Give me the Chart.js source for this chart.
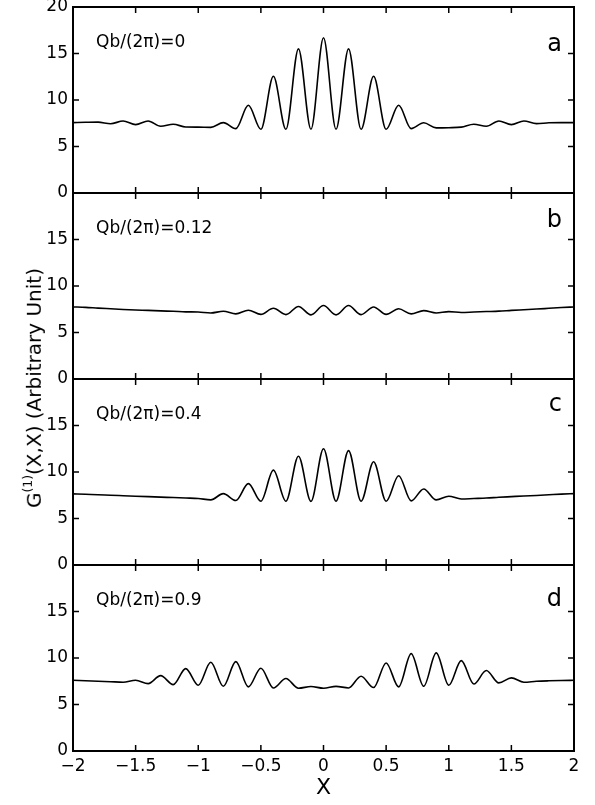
<!DOCTYPE html>
<html>
<head>
<meta charset="utf-8">
<script src="https://cdn.jsdelivr.net/npm/chart.js@4.4.0/dist/chart.umd.min.js"></script>
<style>
  body { margin: 0; background: #fff; }
  #wrap { position: relative; width: 595px; height: 805px; overflow: hidden; }
  #wrap canvas { position: absolute; left: 0; }
  #ylab {
    position: absolute; left: 33px; top: 388px;
    transform: translate(-50%, -50%) rotate(-90deg);
    white-space: nowrap; font: 20px "DejaVu Sans"; color: #000;
  }
  #ylab sup { font-size: 0.62em; vertical-align: 0.75em; }
</style>
</head>
<body>
<div id="wrap">
  <canvas id="pa"></canvas>
  <canvas id="pb"></canvas>
  <canvas id="pc"></canvas>
  <canvas id="pd"></canvas>
  <div id="ylab">G<sup>(1)</sup>(X,X) (Arbitrary Unit)</div>
</div>
<script>
// x positions shared by all four panels
const xValues = [-2.0, -1.9, -1.8, -1.7, -1.6, -1.5, -1.4, -1.3, -1.2, -1.1, -1.0,
  -0.9, -0.8, -0.7, -0.6, -0.5, -0.4, -0.3, -0.2, -0.1, 0.0,
  0.1, 0.2, 0.3, 0.4, 0.5, 0.6, 0.7, 0.8, 0.9, 1.0,
  1.1, 1.2, 1.3, 1.4, 1.5, 1.6, 1.7, 1.8, 1.9, 2.0];

// G(1)(X,X) for Qb/(2pi) = 0
const seriesA = [7.57, 7.6, 7.62, 7.45, 7.74, 7.35, 7.74, 7.17, 7.39, 7.1, 7.08,
  7.06, 7.57, 6.92, 9.43, 6.85, 12.55, 6.85, 15.5, 6.85, 16.7,
  6.85, 15.5, 6.85, 12.55, 6.85, 9.43, 6.92, 7.55, 7.0, 7.02,
  7.08, 7.39, 7.17, 7.74, 7.35, 7.74, 7.46, 7.55, 7.57, 7.57];

// Qb/(2pi) = 0.12
const seriesB = [7.75, 7.7, 7.62, 7.55, 7.48, 7.42, 7.38, 7.32, 7.28, 7.22, 7.2,
  7.1, 7.28, 7.0, 7.4, 6.95, 7.6, 6.92, 7.8, 6.9, 7.9,
  6.9, 7.9, 6.92, 7.75, 6.95, 7.55, 7.0, 7.35, 7.1, 7.25,
  7.15, 7.2, 7.25, 7.3, 7.38, 7.45, 7.52, 7.6, 7.68, 7.75];

// Qb/(2pi) = 0.4
const seriesC = [7.65, 7.6, 7.56, 7.5, 7.45, 7.4, 7.35, 7.3, 7.25, 7.2, 7.15,
  7.0, 7.68, 6.93, 8.75, 6.86, 10.2, 6.86, 11.7, 6.84, 12.5,
  6.86, 12.3, 6.86, 11.1, 6.86, 9.6, 6.9, 8.18, 7.0, 7.4,
  7.1, 7.15, 7.2, 7.28, 7.35, 7.42, 7.48, 7.55, 7.62, 7.68];

// Qb/(2pi) = 0.9
const seriesD = [7.6, 7.55, 7.5, 7.45, 7.4, 7.6, 7.25, 8.1, 7.14, 8.86, 7.07,
  9.54, 6.96, 9.61, 6.9, 8.9, 6.78, 7.79, 6.75, 6.93, 6.75,
  6.95, 6.78, 8.04, 6.82, 9.47, 6.9, 10.47, 6.96, 10.55, 7.07,
  9.72, 7.2, 8.65, 7.32, 7.86, 7.4, 7.5, 7.55, 7.58, 7.6];

const xTicks = [-2, -1.5, -1, -0.5, 0, 0.5, 1, 1.5, 2];
const yTicks = [0, 5, 10, 15, 20];
const panelTexts = ['Qb/(2\u03c0)=0', 'Qb/(2\u03c0)=0.12', 'Qb/(2\u03c0)=0.4', 'Qb/(2\u03c0)=0.9'];
const panelLetters = ['a', 'b', 'c', 'd'];

const allSeries = [seriesA, seriesB, seriesC, seriesD];
const canvasIds = ['pa', 'pb', 'pc', 'pd'];
const panelTops = [7, 193, 379, 565];
const panelH = 186;
const letterOffsets = [44, 34, 32, 41];
const FONT = '"DejaVu Sans"';

// frame, inward ticks and the in-panel labels
const framePlugin = {
  id: 'frame',
  afterDatasetsDraw(chart, args, opts) {
    const { ctx, chartArea: a } = chart;
    const x = chart.scales.x, y = chart.scales.y;
    ctx.save();
    ctx.strokeStyle = '#000';
    ctx.lineWidth = 1.5;
    ctx.beginPath();
    xTicks.forEach(v => {
      const px = x.getPixelForValue(v);
      ctx.moveTo(px, a.bottom); ctx.lineTo(px, a.bottom - 6);
      ctx.moveTo(px, a.top); ctx.lineTo(px, a.top + 6);
    });
    yTicks.forEach(v => {
      const py = y.getPixelForValue(v);
      ctx.moveTo(a.left, py); ctx.lineTo(a.left + 6, py);
      ctx.moveTo(a.right, py); ctx.lineTo(a.right - 6, py);
    });
    ctx.stroke();
    ctx.lineWidth = 2;
    ctx.strokeRect(a.left, a.top, a.right - a.left, a.bottom - a.top);

    ctx.fillStyle = '#000';
    ctx.textBaseline = 'alphabetic';
    ctx.font = '17px ' + FONT;
    ctx.textAlign = 'left';
    ctx.fillText(panelTexts[opts.index], a.left + 23, a.top + 40);
    ctx.font = '24px ' + FONT;
    ctx.textAlign = 'right';
    ctx.fillText(panelLetters[opts.index], a.right - 12, a.top + letterOffsets[opts.index]);
    ctx.restore();
  }
};

const fmt = v => (v < 0 ? '\u2212' + Math.abs(v) : String(v));

function noPad(s) {
  s.paddingTop = 0; s.paddingBottom = 0;
  s.paddingLeft = 0; s.paddingRight = 0;
}

allSeries.forEach((series, i) => {
  const last = i === 3;
  const cv = document.getElementById(canvasIds[i]);
  cv.width = 595;
  cv.height = last ? 10 + panelH + 50 : panelH + 20;
  cv.style.top = (panelTops[i] - 10) + 'px';

  new Chart(cv, {
    type: 'line',
    data: {
      datasets: [{
        data: xValues.map((xv, k) => ({ x: xv, y: series[k] })),
        borderColor: '#000',
        borderWidth: 1.6,
        pointRadius: 0,
        cubicInterpolationMode: 'monotone',
        fill: false
      }]
    },
    options: {
      responsive: false,
      animation: false,
      events: [],
      layout: { padding: { left: 0, right: 21, top: 10, bottom: last ? 0 : 10 } },
      plugins: {
        legend: { display: false },
        tooltip: { enabled: false },
        frame: { index: i }
      },
      scales: {
        x: {
          type: 'linear',
          min: -2, max: 2,
          display: last,
          grid: { display: false, drawTicks: false },
          border: { display: false },
          ticks: {
            stepSize: 0.5, padding: 5, color: '#000',
            autoSkip: false, maxRotation: 0,
            font: { family: FONT, size: 17 },
            callback: v => fmt(v)
          },
          title: {
            display: true, text: 'X', color: '#000',
            font: { family: FONT, size: 22 },
            padding: { top: 0, bottom: 0 }
          },
          afterFit(s) { s.height = last ? 50 : 0; noPad(s); }
        },
        y: {
          min: 0, max: 20,
          grid: { display: false, drawTicks: false },
          border: { display: false },
          ticks: {
            stepSize: 5, padding: 5, color: '#000',
            font: { family: FONT, size: 17 },
            callback: v => (v === 20 && i > 0 ? '' : String(v))
          },
          afterFit(s) { s.width = 73; noPad(s); }
        }
      }
    },
    plugins: [framePlugin]
  });
});
</script>
</body>
</html>
